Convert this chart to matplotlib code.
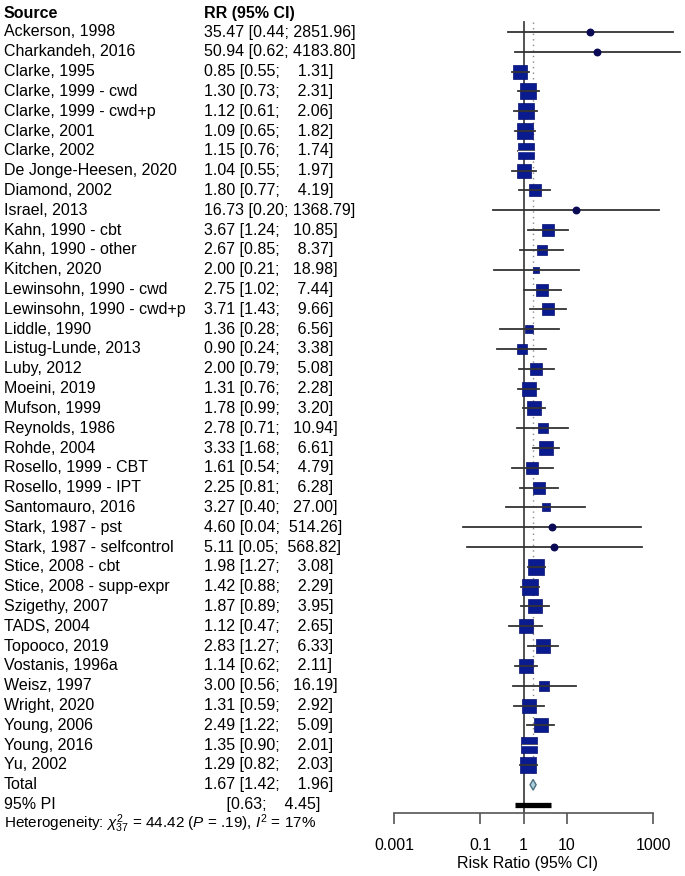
import numpy as np
import matplotlib
matplotlib.use('Agg')
import matplotlib.pyplot as plt

plt.rcParams['font.family'] = ['Liberation Sans', 'DejaVu Sans']
plt.rcParams['mathtext.fontset'] = 'custom'
plt.rcParams['mathtext.rm'] = 'Liberation Sans'
plt.rcParams['mathtext.it'] = 'Liberation Sans:italic'

studies = ['Ackerson, 1998', 'Charkandeh, 2016', 'Clarke, 1995', 'Clarke, 1999 - cwd',
           'Clarke, 1999 - cwd+p', 'Clarke, 2001', 'Clarke, 2002', 'De Jonge-Heesen, 2020',
           'Diamond, 2002', 'Israel, 2013', 'Kahn, 1990 - cbt', 'Kahn, 1990 - other',
           'Kitchen, 2020', 'Lewinsohn, 1990 - cwd', 'Lewinsohn, 1990 - cwd+p', 'Liddle, 1990',
           'Listug-Lunde, 2013', 'Luby, 2012', 'Moeini, 2019', 'Mufson, 1999', 'Reynolds, 1986',
           'Rohde, 2004', 'Rosello, 1999 - CBT', 'Rosello, 1999 - IPT', 'Santomauro, 2016',
           'Stark, 1987 - pst', 'Stark, 1987 - selfcontrol', 'Stice, 2008 - cbt',
           'Stice, 2008 - supp-expr', 'Szigethy, 2007', 'TADS, 2004', 'Topooco, 2019',
           'Vostanis, 1996a', 'Weisz, 1997', 'Wright, 2020', 'Young, 2006', 'Young, 2016',
           'Yu, 2002']
rr = [35.47, 50.94, 0.85, 1.30, 1.12, 1.09, 1.15, 1.04, 1.80, 16.73, 3.67, 2.67, 2.00,
      2.75, 3.71, 1.36, 0.90, 2.00, 1.31, 1.78, 2.78, 3.33, 1.61, 2.25, 3.27, 4.60, 5.11,
      1.98, 1.42, 1.87, 1.12, 2.83, 1.14, 3.00, 1.31, 2.49, 1.35, 1.29]
lower = [0.44, 0.62, 0.55, 0.73, 0.61, 0.65, 0.76, 0.55, 0.77, 0.20, 1.24, 0.85, 0.21,
         1.02, 1.43, 0.28, 0.24, 0.79, 0.76, 0.99, 0.71, 1.68, 0.54, 0.81, 0.40, 0.04, 0.05,
         1.27, 0.88, 0.89, 0.47, 1.27, 0.62, 0.56, 0.59, 1.22, 0.90, 0.82]
upper = [2851.96, 4183.80, 1.31, 2.31, 2.06, 1.82, 1.74, 1.97, 4.19, 1368.79, 10.85, 8.37,
         18.98, 7.44, 9.66, 6.56, 3.38, 5.08, 2.28, 3.20, 10.94, 6.61, 4.79, 6.28, 27.00,
         514.26, 568.82, 3.08, 2.29, 3.95, 2.65, 6.33, 2.11, 16.19, 2.92, 5.09, 2.01, 2.03]
# approximate study weights (%) read from square sizes
weights = [0.1, 0.1, 4.05, 4.26, 4.26, 4.6, 4.6, 4.05, 3.06, 0.1, 2.49, 2.09, 0.85, 2.49,
           2.92, 1.40, 1.73, 2.49, 3.89, 3.89, 1.98, 3.74, 2.49, 2.62, 1.11, 0.1, 0.1, 4.71,
           5.0, 3.49, 3.25, 3.25, 4.05, 1.50, 3.74, 3.54, 5.0, 4.82]
total = (1.67, 1.42, 1.96)
pi_int = (0.63, 4.45)
het_text = r'Heterogeneity: $\chi^2_{37}$ = 44.42 ($P$ = .19), $I^2$ = 17%'
ticks = [0.001, 0.1, 1, 10, 1000]
tick_labels = ['0.001', '0.1', '1', '10', '1000']

W, H = 685, 876
fig = plt.figure(figsize=(W / 100, H / 100), dpi=100)

# layout in pixels
ax_left, ax_bottom_px = 370, 813
row0, row_step = 32, 19.81
px_per_dec = 43.17
max_side = 16.5
ylo = (ax_bottom_px - row0) / row_step
yhi = -row0 / row_step

ax = fig.add_axes([ax_left / W, 1 - ax_bottom_px / H, (W - ax_left) / W, ax_bottom_px / H])
ax.set_xscale('log')
ax.set_xlim(10 ** (-3 - (394 - ax_left) / px_per_dec), 10 ** (3 + (W - 653) / px_per_dec))
ax.set_ylim(ylo, yhi)
for s in ['top', 'left', 'right']:
    ax.spines[s].set_visible(False)
ax.spines['bottom'].set_color('#555555')
ax.spines['bottom'].set_linewidth(1.2)
ax.spines['bottom'].set_bounds(ticks[0], ticks[-1])
ax.set_yticks([])
ax.set_xticks(ticks)
ax.set_xticklabels(tick_labels)
ax.minorticks_off()
ax.tick_params(axis='x', direction='out', length=8, width=1.2, color='#555555',
               labelsize=11.5, pad=10)
ax.set_xlabel('Risk Ratio (95% CI)', fontsize=11.5, labelpad=2)
ax.patch.set_alpha(0)

n = len(studies)
rows = np.arange(n)
wmax = max(weights)

ax.plot([1, 1], [-0.5, ylo], color='#444444', lw=1.3, zorder=1)
ax.plot([total[0], total[0]], [-0.5, n - 0.5], color='#888888', lw=1.0, ls=(0, (1, 3)), zorder=1)

for i in rows:
    ax.plot([lower[i], upper[i]], [i, i], color='#333333', lw=1.3, zorder=3)
    if weights[i] < 0.3:
        ax.scatter([rr[i]], [i], s=22, marker='o', color='#0a0a55', zorder=4)
        continue
    side_px = max_side * np.sqrt(weights[i] / wmax)
    ax.scatter([rr[i]], [i], s=(side_px * 0.72) ** 2, marker='s', color='#0a1a8f',
               edgecolor='#06106e', linewidth=0.5, zorder=2)
    half = side_px / 2 / px_per_dec
    if np.log10(lower[i]) >= np.log10(rr[i]) - half and np.log10(upper[i]) <= np.log10(rr[i]) + half:
        ax.plot([lower[i], upper[i]], [i, i], color='white', lw=1.0, zorder=5)

# pooled diamond
dh = 0.27
ax.fill([total[1], total[0], total[2], total[0]], [n, n - dh, n, n + dh],
        facecolor='#a9cfdc', edgecolor='#4d6f80', lw=1.0, zorder=3)
# prediction interval
ax.plot(pi_int, [n + 1, n + 1], color='black', lw=3.8, solid_capstyle='butt', zorder=3)

# text columns
tx = fig.add_axes([0, 1 - ax_bottom_px / H, ax_left / W, ax_bottom_px / H])
tx.set_xlim(0, ax_left)
tx.set_ylim(ylo, yhi)
tx.axis('off')
fs = 11.5
tx.text(4, -0.95, 'Source', fontsize=fs, fontweight='bold', va='center')
tx.text(204, -0.95, 'RR (95% CI)', fontsize=fs, fontweight='bold', va='center')
for i in rows:
    tx.text(4, i, studies[i], fontsize=fs, va='center')
    tx.text(204, i, f'{rr[i]:.2f} [{lower[i]:.2f}; {upper[i]:7.2f}]', fontsize=fs, va='center')
tx.text(4, n, 'Total', fontsize=fs, va='center')
tx.text(204, n, f'{total[0]:.2f} [{total[1]:.2f}; {total[2]:7.2f}]', fontsize=fs, va='center')
tx.text(4, n + 1, '95% PI', fontsize=fs, va='center')
tx.text(204, n + 1, f'     [{pi_int[0]:.2f}; {pi_int[1]:7.2f}]', fontsize=fs, va='center')
tx.text(4, n + 1.95, het_text, fontsize=11, va='center', clip_on=False)

plt.savefig('out.png', dpi=100)
